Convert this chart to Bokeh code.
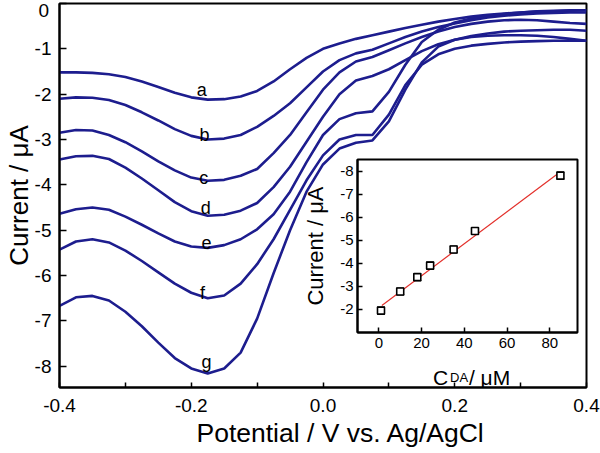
from bokeh.plotting import figure
from bokeh.models import (Range1d, Label, ColumnDataSource, Whisker, TeeHead,
                          FixedTicker, PrintfTickFormatter, Title)
from bokeh.embed import file_html
from bokeh.resources import INLINE
from bokeh.core.properties import value

# ---------------- data ----------------
potential = [-0.400, -0.375, -0.350, -0.325, -0.300, -0.275, -0.250, -0.225,
             -0.200, -0.175, -0.150, -0.125, -0.100, -0.075, -0.050, -0.025,
             0.000, 0.025, 0.050, 0.075, 0.100, 0.125, 0.150, 0.175,
             0.200, 0.225, 0.250, 0.275, 0.300, 0.325, 0.350, 0.375, 0.400]

curve_a = [-1.52, -1.52, -1.53, -1.56, -1.62, -1.72, -1.84, -1.97,
           -2.07, -2.12, -2.11, -2.05, -1.93, -1.72, -1.45, -1.20,
           -1.00, -0.88, -0.78, -0.70, -0.62, -0.54, -0.47, -0.40,
           -0.34, -0.29, -0.25, -0.22, -0.20, -0.18, -0.17, -0.16, -0.15]
curve_b = [-2.10, -2.07, -2.08, -2.13, -2.24, -2.40, -2.58, -2.77,
           -2.92, -3.00, -2.98, -2.90, -2.72, -2.48, -2.20, -1.85,
           -1.50, -1.25, -1.10, -1.02, -0.88, -0.74, -0.62, -0.52,
           -0.44, -0.37, -0.31, -0.27, -0.24, -0.22, -0.21, -0.20, -0.20]
curve_c = [-2.85, -2.79, -2.80, -2.90, -3.06, -3.26, -3.48, -3.68,
           -3.84, -3.91, -3.89, -3.80, -3.65, -3.30, -2.90, -2.40,
           -1.90, -1.52, -1.28, -1.18, -1.03, -0.88, -0.74, -0.62,
           -0.52, -0.45, -0.40, -0.37, -0.36, -0.37, -0.40, -0.43, -0.45]
curve_d = [-3.44, -3.37, -3.36, -3.43, -3.62, -3.86, -4.12, -4.38,
           -4.58, -4.68, -4.66, -4.57, -4.40, -4.05, -3.60, -3.05,
           -2.50, -2.00, -1.70, -1.60, -1.45, -1.25, -1.05, -0.90,
           -0.80, -0.72, -0.66, -0.62, -0.60, -0.59, -0.58, -0.58, -0.60]
curve_e = [-4.64, -4.54, -4.50, -4.55, -4.70, -4.88, -5.07, -5.25,
           -5.36, -5.39, -5.33, -5.20, -4.98, -4.65, -4.15, -3.50,
           -2.90, -2.55, -2.42, -2.38, -1.95, -1.35, -0.85, -0.58,
           -0.42, -0.33, -0.27, -0.23, -0.20, -0.17, -0.16, -0.15, -0.15]
curve_f = [-5.43, -5.25, -5.20, -5.27, -5.45, -5.68, -5.93, -6.18,
           -6.38, -6.50, -6.44, -6.18, -5.75, -5.20, -4.55, -3.90,
           -3.35, -3.00, -2.90, -2.90, -2.45, -1.80, -1.35, -1.12,
           -1.00, -0.93, -0.89, -0.86, -0.84, -0.83, -0.82, -0.82, -0.82]
curve_g = [-6.67, -6.48, -6.45, -6.55, -6.80, -7.12, -7.48, -7.82,
           -8.05, -8.16, -8.05, -7.70, -6.95, -5.95, -5.00, -4.15,
           -3.55, -3.20, -3.07, -3.02, -2.60, -1.90, -1.30, -0.95,
           -0.80, -0.74, -0.71, -0.70, -0.70, -0.71, -0.74, -0.78, -0.82]
curves = [curve_a, curve_b, curve_c, curve_d, curve_e, curve_f, curve_g]
curve_names = ["a", "b", "c", "d", "e", "f", "g"]

x_ticks = [-0.4, -0.2, 0.0, 0.2, 0.4]
x_minor = [-0.3, -0.1, 0.1, 0.3]
y_ticks = [-8, -7, -6, -5, -4, -3, -2, -1, 0]

# inset: calibration
conc = [1, 10, 18, 24, 35, 45, 85]
peak = [-1.95, -2.78, -3.40, -3.90, -4.60, -5.40, -7.80]
peak_err = [0.15, 0.15, 0.15, 0.15, 0.15, 0.15, 0.15]
fit_x = [1.4, 85.0]
fit_y = [-2.17, -7.97]
inset_x_ticks = [0, 20, 40, 60, 80]
inset_y_ticks = [-8, -7, -6, -5, -4, -3, -2]

# ---------------- style ----------------
FONT = "Liberation Sans"
BLUE = "#1d1d8e"
RED = "#e3302b"

# text placement (layout, not data)
label_x = [-0.184, -0.180, -0.181, -0.178, -0.177, -0.183, -0.177]
label_y = [-1.90, -2.89, -3.84, -4.50, -5.28, -6.38, -7.90]

p = figure(width=600, height=453, output_backend="svg", toolbar_location=None,
           x_range=Range1d(-0.4, 0.4), y_range=Range1d(-8.47, 0.0),
           min_border_left=57, min_border_right=14, min_border_top=3,
           min_border_bottom=66,
           background_fill_color="white", border_fill_color="white",
           styles={"position": "absolute", "left": "0px", "top": "0px"})
p.xgrid.visible = False
p.ygrid.visible = False
p.outline_line_color = "black"
p.outline_line_width = 2

p.xaxis.ticker = FixedTicker(ticks=x_ticks, minor_ticks=x_minor)
p.xaxis.formatter = PrintfTickFormatter(format="%.1f")
p.yaxis.ticker = FixedTicker(ticks=y_ticks)
p.yaxis.formatter = PrintfTickFormatter(format="%d")
p.yaxis.major_label_overrides = {0: ""}   # the "0" sits lower, drawn below
for ax in (p.xaxis[0], p.yaxis[0]):
    ax.axis_line_width = 2
    ax.axis_line_color = "black"
    ax.major_tick_out = 0
    ax.minor_tick_out = 0
    ax.major_tick_line_width = 1.5
    ax.minor_tick_line_width = 1.5
    ax.major_label_text_font = FONT
    ax.major_label_text_font_size = "19px"
    ax.major_label_text_color = "black"
p.xaxis.major_tick_in = 5
p.xaxis.minor_tick_in = 5
p.xaxis.major_label_standoff = 11
p.yaxis.major_tick_in = 7
p.yaxis.minor_tick_in = 0
p.yaxis.major_label_standoff = 8
p.yaxis.axis_label = "Current / \u03bcA"
p.yaxis.axis_label_text_font = FONT
p.yaxis.axis_label_text_font_size = "26px"
p.yaxis.axis_label_text_font_style = "normal"
p.yaxis.axis_label_text_color = "black"
p.yaxis.axis_label_standoff = -2

p.add_layout(Title(text="Potential / V vs. Ag/AgCl", align="left", offset=137,
                   standoff=3, text_font=FONT, text_font_size="26.5px",
                   text_font_style="normal", text_color="black"), "below")

for c in curves:
    p.line(potential, c, line_color=BLUE, line_width=2.6)

p.text(x=label_x, y=label_y, text=curve_names, text_font=value(FONT),
       text_font_size=value("18px"), text_align="center",
       text_baseline="alphabetic", text_color="black")

# inset x-axis title (C_DA / uM), drawn in the main plot area under the inset
p.add_layout(Label(x=0.1671, y=-8.25, text="C", text_font=FONT,
                   text_font_size="21px", text_align="left",
                   text_baseline="alphabetic", text_color="black"))
p.add_layout(Label(x=0.1928, y=-8.25, text="DA", text_font=FONT,
                   text_font_size="13px", text_align="left",
                   text_baseline="alphabetic", text_color="black"))
p.add_layout(Label(x=0.2215, y=-8.25, text="/ \u03bcM", text_font=FONT,
                   text_font_size="21px", text_align="left",
                   text_baseline="alphabetic", text_color="black"))

# ---------------- "0" tick label of the main y axis (set slightly lower) ----
zero = figure(width=24, height=26, output_backend="svg", toolbar_location=None,
              x_range=Range1d(0, 1), y_range=Range1d(0, 1), min_border=0,
              background_fill_alpha=0.0, border_fill_alpha=0.0,
              outline_line_color=None,
              styles={"position": "absolute", "left": "25px", "top": "0px"})
zero.axis.visible = False
zero.xgrid.visible = False
zero.ygrid.visible = False
zero.text(x=[0.98], y=[0.6], text=["0"], text_font=value(FONT),
          text_font_size=value("19px"), text_align="right",
          text_baseline="middle", text_color="black")

# ---------------- inset ----------------
ins = figure(width=285, height=230, output_backend="svg", toolbar_location=None,
             x_range=Range1d(-10, 93), y_range=Range1d(-1.0, -8.5),
             min_border_left=56, min_border_right=8, min_border_top=4,
             min_border_bottom=53,
             background_fill_color="white", border_fill_alpha=0.0,
             styles={"position": "absolute", "left": "300px", "top": "155px"})
ins.xgrid.visible = False
ins.ygrid.visible = False
ins.outline_line_color = "black"
ins.outline_line_width = 2
ins.xaxis.ticker = FixedTicker(ticks=inset_x_ticks)
ins.yaxis.ticker = FixedTicker(ticks=inset_y_ticks)
ins.yaxis.formatter = PrintfTickFormatter(format="%d")
for ax in (ins.xaxis[0], ins.yaxis[0]):
    ax.axis_line_width = 2
    ax.major_tick_out = 0
    ax.major_tick_in = 5
    ax.minor_tick_in = 0
    ax.minor_tick_out = 0
    ax.major_tick_line_width = 1.5
    ax.major_label_text_font = FONT
    ax.major_label_text_font_size = "15px"
    ax.major_label_text_color = "black"
ins.xaxis.major_label_standoff = 5
ins.yaxis.major_label_standoff = 4
ins.yaxis.axis_label = "Current / \u03bcA"
ins.yaxis.axis_label_text_font = FONT
ins.yaxis.axis_label_text_font_size = "22px"
ins.yaxis.axis_label_text_font_style = "normal"
ins.yaxis.axis_label_text_color = "black"
ins.yaxis.axis_label_standoff = 9

ins.line(fit_x, fit_y, line_color=RED, line_width=1.2)
err_src = ColumnDataSource(dict(
    x=conc,
    lower=[v - e for v, e in zip(peak, peak_err)],
    upper=[v + e for v, e in zip(peak, peak_err)]))
ins.add_layout(Whisker(source=err_src, base="x", lower="lower", upper="upper",
                       dimension="height", line_color="black", line_width=1.2,
                       lower_head=TeeHead(size=8, line_color="black", line_width=1.2),
                       upper_head=TeeHead(size=8, line_color="black", line_width=1.2)))
ins.scatter(conc, peak, marker="square", size=7, fill_color="white",
            line_color="black", line_width=1.6)

open("out.html", "w").write(file_html([p, zero, ins], INLINE))
